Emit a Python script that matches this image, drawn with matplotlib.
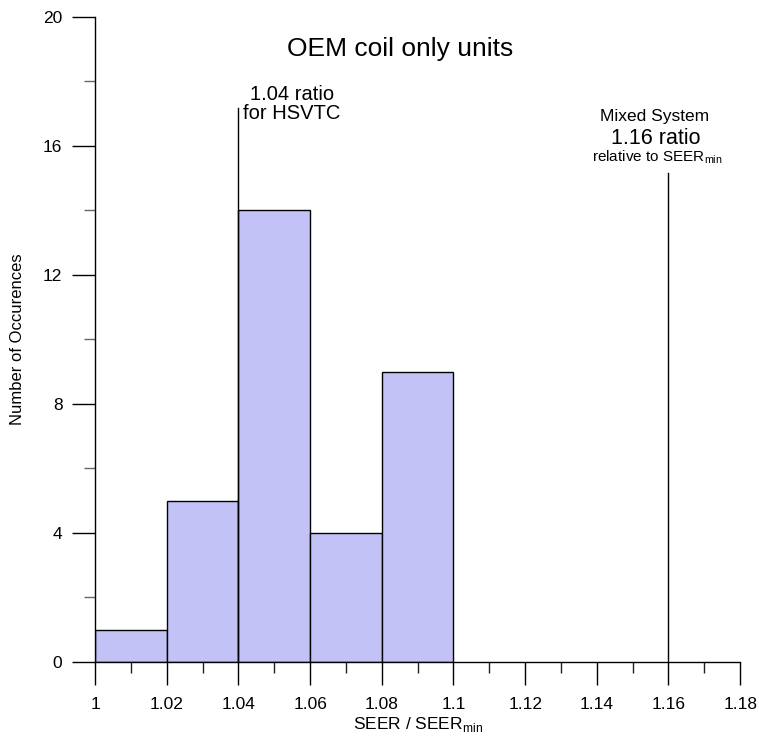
import matplotlib
matplotlib.use("Agg")
import matplotlib.pyplot as plt
import numpy as np

plt.rcParams['font.family'] = ['Liberation Sans', 'DejaVu Sans']

# histogram data
bin_edges = [1.00, 1.02, 1.04, 1.06, 1.08, 1.10]
counts = [1, 5, 14, 4, 9]

# reference lines
hsvtc_ratio = 1.04
hsvtc_top = 17.18
mixed_ratio = 1.16
mixed_top = 15.16

x_ticks = [1, 1.02, 1.04, 1.06, 1.08, 1.1, 1.12, 1.14, 1.16, 1.18]
x_labels = ["1", "1.02", "1.04", "1.06", "1.08", "1.1", "1.12", "1.14", "1.16", "1.18"]
y_ticks = [0, 4, 8, 12, 16, 20]

fig = plt.figure(figsize=(7.59, 7.38), dpi=100)
ax = fig.add_axes([0.1252, 0.103, 0.85, 0.874])

lefts = np.array(bin_edges[:-1])
widths = np.diff(bin_edges)
ax.bar(lefts, counts, width=widths, align='edge', facecolor='#c2c2f6',
       edgecolor='black', linewidth=1.0, zorder=2)

ax.plot([hsvtc_ratio, hsvtc_ratio], [0, hsvtc_top], color='black', lw=1.0, zorder=3)
ax.plot([mixed_ratio, mixed_ratio], [0, mixed_top], color='black', lw=1.0, zorder=3)

ax.set_xlim(1, 1.18)
ax.set_ylim(0, 20)
ax.set_xticks(x_ticks)
ax.set_xticklabels(x_labels)
ax.set_xticks(np.arange(1.01, 1.18, 0.02), minor=True)
ax.set_yticks(y_ticks)
ax.set_yticks([2, 6, 10, 14, 18], minor=True)

for s in ['top', 'right']:
    ax.spines[s].set_visible(False)
ax.spines['left'].set_linewidth(1.0)
ax.spines['bottom'].set_linewidth(1.0)
ax.tick_params(which='major', direction='out', length=16.5, width=1.0, labelsize=12.5, pad=7)
ax.tick_params(axis='y', which='minor', direction='out', length=8, width=1.0, color='#666666')
ax.tick_params(axis='x', which='minor', direction='out', length=8, width=1.0, color='#222222')
ax.tick_params(axis='x', which='major', pad=9)

ax.set_ylabel("Number of Occurences", fontsize=12, labelpad=13)
ax.set_xlabel("SEER / SEER$_{\\mathregular{min}}$", fontsize=12.5, labelpad=2)

ax.text(1.0852, 19.0, "OEM coil only units", fontsize=19, ha='center', va='center')
ax.text(1.055, 17.3, "1.04 ratio\nfor HSVTC", fontsize=14.5, ha='center', va='center',
        multialignment='center', linespacing=1.05)
ax.text(1.156, 16.92, "Mixed System", fontsize=12.5, ha='center', va='center')
ax.text(1.1564, 16.23, "1.16 ratio", fontsize=15.5, ha='center', va='center')
ax.text(1.1568, 15.66, "relative to SEER$_{\\mathregular{min}}$", fontsize=11, ha='center', va='center')

fig.savefig("out.png", dpi=100)
